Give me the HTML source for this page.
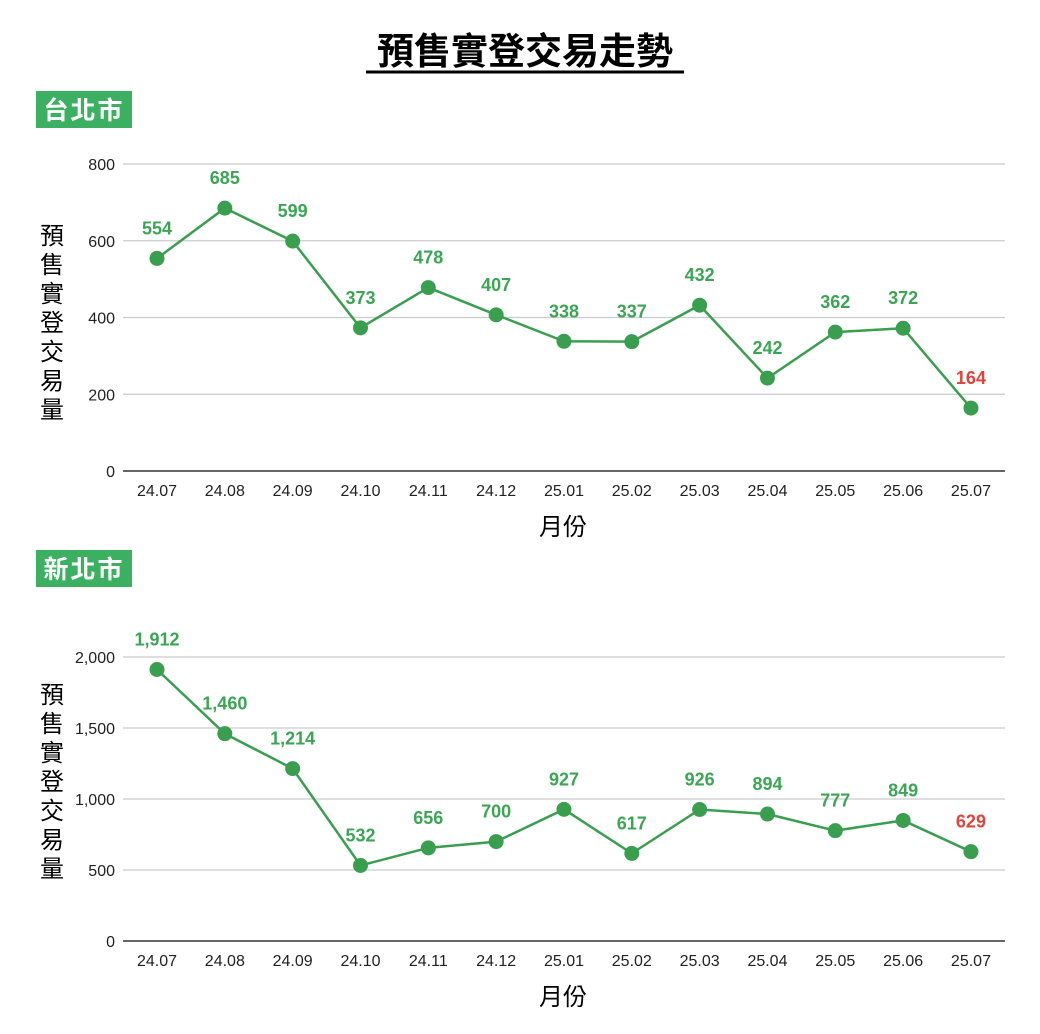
<!DOCTYPE html>
<html><head><meta charset="utf-8"><style>
body{margin:0;background:#fff;width:1040px;height:1029px;overflow:hidden;font-family:"Liberation Sans","Noto Sans CJK TC",sans-serif}
</style></head><body>
<svg width="1040" height="1029" xmlns="http://www.w3.org/2000/svg" font-family="Liberation Sans, Noto Sans CJK TC, sans-serif">
<text x="525" y="64" font-size="37" font-weight="bold" text-anchor="middle" fill="#000">預售實登交易走勢</text>
<line x1="366" y1="72" x2="684" y2="72" stroke="#000" stroke-width="3"/>
<g id="c1"></g><g id="c2"></g>
</svg>
<script>
const months=["24.07","24.08","24.09","24.10","24.11","24.12","25.01","25.02","25.03","25.04","25.05","25.06","25.07"];
const taipeiValues=[554,685,599,373,478,407,338,337,432,242,362,372,164];
const taipeiTicks=[0,200,400,600,800];
const newTaipeiValues=[1912,1460,1214,532,656,700,927,617,926,894,777,849,629];
const newTaipeiTicks=[0,500,1000,1500,2000];
const NS="http://www.w3.org/2000/svg";
function mk(p,t,a,txt){const e=document.createElementNS(NS,t);for(const k in a)e.setAttribute(k,a[k]);if(txt!==undefined)e.textContent=txt;p.appendChild(e);return e;}
function draw(gid,badge,badgeY,vals,ticks,y0,yTop,maxV,axisY){
 const g=document.getElementById(gid);
 const xS=i=>157+i*67.83, yS=v=>y0-(v/maxV)*(y0-yTop);
 const b=mk(g,'rect',{x:36,y:badgeY,width:96,height:37,fill:'#3bb061'});
 
 
 const bt=mk(g,'text',{x:84,y:badgeY+28,'font-size':25,'font-weight':'bold',fill:'#fff','text-anchor':'middle','letter-spacing':2},badge);
 
 
 ticks.forEach(t=>{
  const y=yS(t);
  const l=mk(g,'line',{x1:123,x2:1005,y1:y,y2:y,stroke:t===0?'#333':'#ccc','stroke-width':t===0?1.5:1.2});
  
  
  const tl=mk(g,'text',{x:115,y:y+6,'font-size':16,fill:'#222','text-anchor':'end'},t.toLocaleString('en-US'));
  
  
 });
 months.forEach((m,i)=>{
  const t=mk(g,'text',{x:xS(i),y:y0+25,'font-size':16,fill:'#222','text-anchor':'middle'},m);
  
  
 });
 const yt=mk(g,'text',{x:52,y:axisY,'font-size':24,fill:'#000','text-anchor':'middle'});
 
 
 [..."預售實登交易量"].forEach((c,i)=>mk(yt,'tspan',{x:52,y:axisY+i*29},c));
 const xt=mk(g,'text',{x:563,y:y0+64,'font-size':24,fill:'#000','text-anchor':'middle'},'月份');
 
 
 const pl=mk(g,'polyline',{points:vals.map((v,i)=>xS(i)+','+yS(v)).join(' '),fill:'none',stroke:'#3a9e4f','stroke-width':2.5});
 
 
 vals.forEach((v,i)=>{
  const last=i===vals.length-1;
  const c=mk(g,'circle',{cx:xS(i),cy:yS(v),r:7.5,fill:'#3a9e4f'});
  
  
  const t=mk(g,'text',{x:xS(i),y:yS(v)-24,'font-size':18,'font-weight':'bold',fill:last?'#e0433a':'#3aa653','text-anchor':'middle'},v.toLocaleString('en-US'));
  
  
 });
}
draw('c1','台北市',91,taipeiValues,taipeiTicks,471,164,800,244);
draw('c2','新北市',550,newTaipeiValues,newTaipeiTicks,941,657,2000,703);
</script>
</body></html>
